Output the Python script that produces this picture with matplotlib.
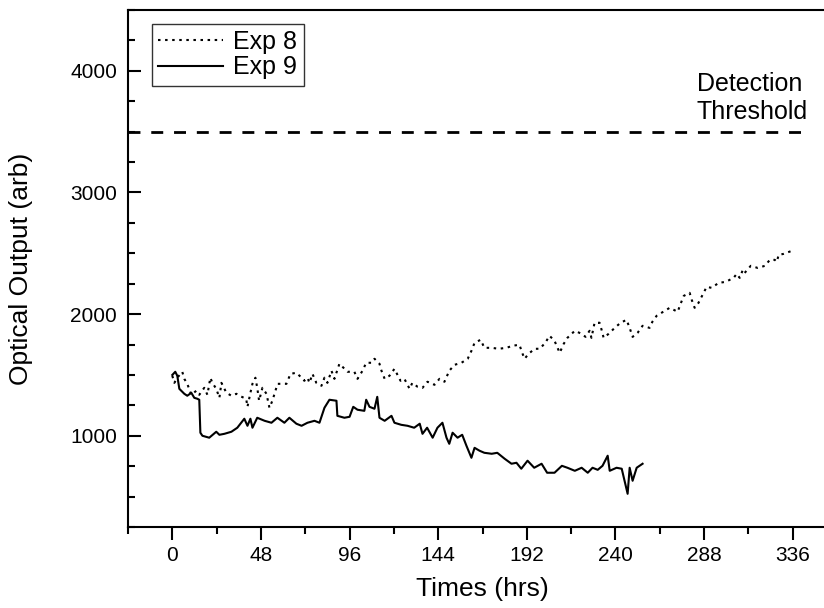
import matplotlib
matplotlib.use("Agg")
import matplotlib.pyplot as plt
from matplotlib.ticker import MultipleLocator

plt.rcParams['font.family'] = ['Liberation Sans', 'DejaVu Sans']

# Exp 8 (dotted)
exp8_t = [0, 1.1, 2.7, 5.4, 6.5, 8.1, 10.3, 13, 14.6, 17.3, 19, 20.6, 21.7, 23.8, 25.5, 26.6, 29.3, 32,
          34.7, 36.3, 40, 40.7, 42.3, 43.4, 45, 46, 47, 48.8, 51, 52.6, 54.2, 57, 59, 61.8, 64, 67.2,
          70, 71.5, 73.2, 74.3, 75.9, 78, 80.8, 82.4, 84, 86.2, 87.8, 90.5, 92.7, 94.9, 98.6, 100.3,
          103, 105, 107.9, 109.5, 112.2, 113.3, 115, 117.6, 120.3, 123.6, 125.7, 128.5, 130, 132.8,
          135.5, 138.2, 142, 144.7, 147.4, 150, 152.8, 156.6, 160, 162, 163.7, 167, 169, 173, 176.7,
          181, 184.3, 188, 189.7, 190.8, 193, 196.2, 199, 202, 204.3, 207, 209.8, 212, 214, 218,
          221.7, 223.8, 226, 227, 228.7, 231.4, 232.5, 233.6, 236.3, 239.6, 242.8, 246, 247.7, 249.3,
          252, 254.7, 258.5, 260, 262.3, 265, 269.4, 273.7, 275.3, 277, 280.2, 281.3, 282.9, 285,
          287.5, 289.4, 292.1, 295.9, 299.7, 304, 305.7, 307.3, 309, 310, 313.3, 317, 321, 323.6,
          326.3, 327.4, 328.4, 331, 335.5]
exp8_y = [1493, 1435, 1477, 1526, 1468, 1427, 1337, 1370, 1337, 1394, 1337, 1477, 1435, 1386, 1312,
          1435, 1353, 1329, 1345, 1329, 1304, 1238, 1353, 1427, 1477, 1394, 1288, 1394, 1345, 1230,
          1288, 1427, 1427, 1427, 1509, 1518, 1477, 1452, 1477, 1435, 1509, 1435, 1411, 1477, 1435,
          1534, 1468, 1592, 1559, 1526, 1526, 1468, 1534, 1600, 1600, 1633, 1592, 1534, 1468, 1493,
          1550, 1452, 1468, 1386, 1435, 1403, 1394, 1444, 1419, 1468, 1444, 1534, 1583, 1600, 1633,
          1698, 1764, 1789, 1723, 1723, 1715, 1723, 1740, 1748, 1674, 1633, 1674, 1715, 1715, 1764,
          1822, 1781, 1682, 1756, 1805, 1863, 1838, 1813, 1863, 1805, 1929, 1929, 1871, 1805, 1838,
          1887, 1929, 1953, 1887, 1813, 1846, 1904, 1887, 1937, 1986, 2011, 2052, 2019, 2085, 2150,
          2175, 2118, 2052, 2093, 2167, 2224, 2216, 2257, 2265, 2298, 2331, 2298, 2364, 2339, 2397,
          2380, 2397, 2446, 2446, 2430, 2487, 2495, 2520]

# Exp 9 (solid)
exp9_t = [0, 1.6, 2.7, 3.8, 6.5, 8.1, 10.3, 11.9, 13.6, 14.6, 15.2, 16.3, 20, 23.8, 25.5, 28.2, 32,
          35.2, 39, 40.7, 42.3, 43.4, 46, 50, 53.7, 56.9, 60.7, 63.4, 67.2, 70, 73.2, 77, 79.7, 82.4,
          85.1, 88.9, 89.4, 93.2, 96, 98, 100.3, 104, 105, 106.8, 109.5, 111, 112.2, 115, 118.7,
          120.3, 124, 127.4, 131, 134, 135.5, 138, 141, 143.6, 146.3, 148.5, 150, 151.8, 154.5, 157,
          159.3, 162, 163.7, 166.4, 169, 173, 176, 180, 183.7, 186.4, 189, 192.4, 196, 200, 203, 207,
          211, 214, 218, 221.7, 225, 227.6, 230.4, 233, 235.8, 236.9, 240.6, 243.4, 246.6, 247.7,
          249.3, 251.5, 254.7]
exp9_y = [1500, 1526, 1493, 1386, 1345, 1329, 1353, 1312, 1304, 1296, 1025, 1000, 984, 1033, 1008,
          1016, 1033, 1066, 1140, 1082, 1140, 1066, 1148, 1123, 1107, 1148, 1107, 1148, 1099, 1082,
          1107, 1123, 1107, 1230, 1296, 1288, 1164, 1148, 1156, 1238, 1214, 1205, 1296, 1238, 1222,
          1320, 1148, 1123, 1164, 1107, 1090, 1082, 1066, 1099, 1016, 1066, 984, 1066, 1107, 984,
          934, 1025, 984, 1008, 918, 819, 901, 877, 860, 852, 860, 811, 770, 778, 729, 795, 737, 770,
          696, 696, 753, 737, 712, 737, 696, 737, 720, 753, 836, 712, 737, 729, 523, 737, 630, 737,
          770]

threshold = 3500
thr_x = [-24, 344]
thr_text = "Detection\nThreshold"

fig = plt.figure(figsize=(8.24, 6.08), dpi=100)
ax = fig.add_axes([128/824, 81/608, 709/824, 517/608])

ax.plot(exp8_t, exp8_y, color='black', lw=1.5, linestyle=(0, (1.2, 2.2)), label='Exp 8')
ax.plot(exp9_t, exp9_y, color='black', lw=1.5, label='Exp 9')
ax.hlines(threshold, thr_x[0], thr_x[1], colors='black', lw=2, linestyles=(0, (4.3, 3.9)))
ax.text(284, 3778, thr_text, fontsize=18, ha='left', va='center', linespacing=1.2)

ax.set_xlim(-24, 360)
ax.set_ylim(250, 4500)
ax.xaxis.set_major_locator(MultipleLocator(48))
ax.xaxis.set_minor_locator(MultipleLocator(24))
ax.yaxis.set_major_locator(MultipleLocator(1000))
ax.yaxis.set_minor_locator(MultipleLocator(250))
ax.tick_params(axis='x', which='both', direction='out', width=1.5, labelsize=15, pad=5)
ax.tick_params(axis='x', which='major', length=9)
ax.tick_params(axis='x', which='minor', length=5)
ax.tick_params(axis='y', which='both', direction='in', width=1.5, labelsize=15, pad=8, right=True)
ax.tick_params(axis='y', which='major', length=9)
ax.tick_params(axis='y', which='minor', length=5)
for s in ax.spines.values():
    s.set_linewidth(1.5)

ax.set_xlabel('Times (hrs)', fontsize=19, labelpad=8)
ax.set_ylabel('Optical Output (arb)', fontsize=19)
ax.yaxis.set_label_coords(-0.134, 0.5)

leg = ax.legend(loc='upper left', bbox_to_anchor=(0.034, 0.973), fontsize=18, frameon=True,
                fancybox=False, edgecolor='black', borderaxespad=0, handlelength=2.6,
                handletextpad=0.4, labelspacing=0.05, borderpad=0.25)
leg.get_frame().set_linewidth(1.0)

fig.savefig('out.png', dpi=100)
